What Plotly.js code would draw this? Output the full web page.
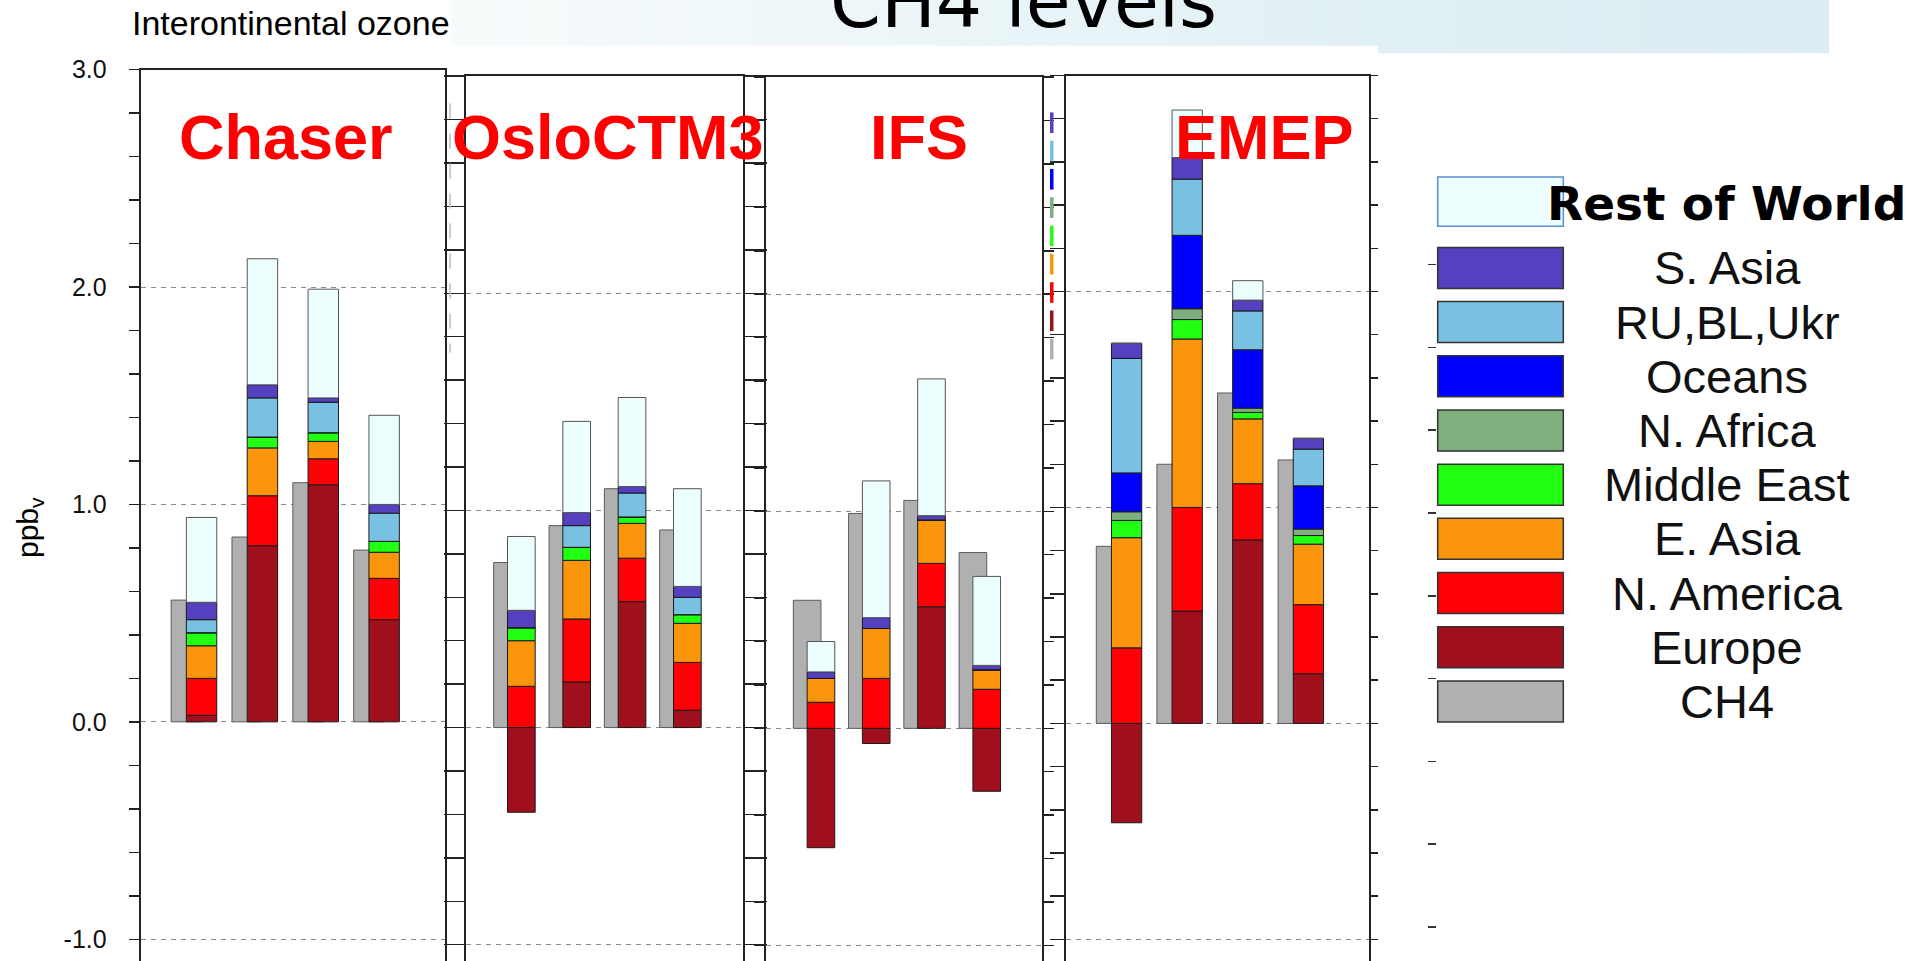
<!DOCTYPE html>
<html>
<head>
<meta charset="utf-8">
<script src="https://cdn.plot.ly/plotly-3.0.1.min.js"></script>
<style>html,body{margin:0;padding:0;background:#fff;}#chart{width:1915px;height:961px;}</style>
</head>
<body>
<div id="chart"></div>
<script>
// ---------------- DATA ----------------
const models = ['Chaser', 'OsloCTM3', 'IFS', 'EMEP'];
const receptors = ['1', '2', '3', '4'];
const tickVals = [-1, 0, 1, 2, 3];
const tickText = ['-1.0', '0.0', '1.0', '2.0', '3.0'];

// one inner array per model (Chaser, OsloCTM3, IFS, EMEP), 4 receptor groups each
const ch4        = [[0.56, 0.85, 1.10, 0.79], [0.76, 0.93, 1.10, 0.91], [0.59, 0.99, 1.05, 0.81], [0.82, 1.20, 1.53, 1.22]];
const europe     = [[0.03, 0.81, 1.09, 0.47], [-0.39, 0.21, 0.58, 0.08], [-0.55, -0.07, 0.56, -0.29], [-0.46, 0.52, 0.85, 0.23]];
const namerica   = [[0.17, 0.23, 0.12, 0.19], [0.19, 0.29, 0.20, 0.22], [0.12, 0.23, 0.20, 0.18], [0.35, 0.48, 0.26, 0.32]];
const easia      = [[0.15, 0.22, 0.08, 0.12], [0.21, 0.27, 0.16, 0.18], [0.11, 0.23, 0.20, 0.09], [0.51, 0.78, 0.30, 0.28]];
const mideast    = [[0.06, 0.05, 0.04, 0.05], [0.06, 0.06, 0.03, 0.04], [0, 0, 0, 0], [0.08, 0.09, 0.03, 0.04]];
const nafrica    = [[0, 0, 0, 0], [0, 0, 0, 0], [0, 0, 0, 0], [0.04, 0.05, 0.02, 0.03]];
const oceans     = [[0, 0, 0, 0], [0, 0, 0, 0], [0, 0, 0, 0], [0.18, 0.34, 0.27, 0.20]];
const rublukr    = [[0.06, 0.18, 0.14, 0.13], [0, 0.10, 0.11, 0.08], [0, 0, 0, 0], [0.53, 0.26, 0.18, 0.17]];
const sasia      = [[0.08, 0.06, 0.02, 0.04], [0.08, 0.06, 0.03, 0.05], [0.03, 0.05, 0.02, 0.02], [0.07, 0.10, 0.05, 0.05]];
const restOfWorld= [[0.39, 0.58, 0.50, 0.41], [0.34, 0.42, 0.41, 0.45], [0.14, 0.63, 0.63, 0.41], [0, 0.22, 0.09, 0]];

const regionNames  = ['Europe', 'N. America', 'E. Asia', 'Middle East', 'N. Africa', 'Oceans', 'RU,BL,Ukr', 'S. Asia', 'Rest of World'];
const regionValues = [europe, namerica, easia, mideast, nafrica, oceans, rublukr, sasia, restOfWorld];
const regionColors = ['#a0101c', '#fe0006', '#fb950b', '#22ff12', '#7fae7f', '#0000fe', '#78c1e3', '#5540c0', '#ecfefe'];
const ch4Color = '#b0b0b0';
const legendOrder = ['S. Asia', 'RU,BL,Ukr', 'Oceans', 'N. Africa', 'Middle East', 'E. Asia', 'N. America', 'Europe', 'CH4'];

// ---------------- LAYOUT HELPERS ----------------
const W = 1915, H = 961;
const px = v => v / W;
const py = v => 1 - v / H;
const colorOf = name => name === 'CH4' ? ch4Color : regionColors[regionNames.indexOf(name)];

const panels = [
  {x0: 140.7, x1: 445.0, top: 69.6, bottom: -1.10,  tl: [10, 0],  titleX: 285.5},
  {x0: 466.0, x1: 742.7, top: 76.1, bottom: -1.075, tl: [20, 22], titleX: 608},
  {x0: 765.7, x1: 1042.0, top: 77.2, bottom: -1.072, tl: [10, 10], titleX: 918.8},
  {x0: 1066.0, x1: 1369.0, top: 75.5, bottom: -1.10, tl: [14, 7], titleX: 1264.5}
];
const frameColor = '#222';
const sans = 'Liberation Sans, Arial, Helvetica, sans-serif';

const traces = [];
const layout = {
  width: W, height: H,
  margin: {l: 0, r: 0, t: 0, b: 0},
  paper_bgcolor: '#ffffff', plot_bgcolor: 'rgba(0,0,0,0)',
  barmode: 'relative', bargap: 0,
  showlegend: false, hovermode: false,
  shapes: [], annotations: []
};

panels.forEach((p, i) => {
  const xName = i === 0 ? 'x' : 'x' + (i + 1);
  const yBase = i === 0 ? 'y' : 'y' + (2 * i + 1);
  const yOver = 'y' + (2 * i + 2);
  const xKey = i === 0 ? 'xaxis' : 'xaxis' + (i + 1);
  const yBaseKey = i === 0 ? 'yaxis' : 'yaxis' + (2 * i + 1);
  const yOverKey = 'yaxis' + (2 * i + 2);

  traces.push({
    type: 'bar', x: receptors, y: ch4[i], xaxis: xName, yaxis: yBase,
    width: 0.5, offset: -0.5, name: 'CH4',
    marker: {color: ch4Color, line: {color: '#5c5c5c', width: 1}}
  });
  regionNames.forEach((r, k) => {
    traces.push({
      type: 'bar', x: receptors, y: regionValues[k][i], xaxis: xName, yaxis: yOver,
      width: 0.5, name: r,
      marker: {color: regionColors[k], line: {color: k === 8 ? '#555' : '#1a1a1a', width: 1}}
    });
  });

  layout[xKey] = {
    domain: [px(p.x0), px(p.x1)], type: 'category', range: [-1, 4], anchor: yBase, side: 'top',
    showline: true, linecolor: frameColor, linewidth: 2, ticks: '', showticklabels: false,
    showgrid: false, zeroline: false, fixedrange: true
  };
  layout[yBaseKey] = {
    domain: [0, py(p.top)], range: [p.bottom, 3], anchor: xName, side: 'left',
    showline: true, linecolor: frameColor, linewidth: 2,
    ticks: 'outside', ticklen: p.tl[0], tickwidth: 1.5, tickcolor: frameColor,
    tickmode: 'array', tickvals: tickVals, ticktext: tickText,
    showticklabels: i === 0, ticklabelstandoff: 17,
    tickfont: {family: sans, size: 25, color: '#111'},
    showgrid: true, gridcolor: '#8a8a8a', griddash: '5px,5px', gridwidth: 1,
    zeroline: false, fixedrange: true,
    minor: {dtick: 0.2, tick0: 0, ticks: 'outside', ticklen: p.tl[0], tickwidth: 1.5, tickcolor: frameColor, showgrid: false}
  };
  layout[yOverKey] = {
    overlaying: yBase, anchor: xName, side: 'right', range: [p.bottom, 3],
    showline: true, linecolor: frameColor, linewidth: 2,
    ticks: p.tl[1] > 0 ? 'outside' : '', ticklen: p.tl[1], tickwidth: 1.5, tickcolor: frameColor,
    tickmode: 'array', tickvals: tickVals, showticklabels: false,
    showgrid: false, zeroline: false, fixedrange: true,
    minor: p.tl[1] > 0 ? {dtick: 0.2, tick0: 0, ticks: 'outside', ticklen: p.tl[1], tickwidth: 1.5, tickcolor: frameColor, showgrid: false} : {ticks: ''}
  };

  layout.annotations.push({
    text: '<b>' + models[i] + '</b>', xref: 'paper', yref: 'paper',
    x: px(p.titleX), y: py(137), xanchor: 'center', yanchor: 'middle', showarrow: false,
    font: {family: sans, size: 63, color: '#ff0000'}
  });
});

// stray tick column left of the legend
traces.push({type: 'scatter', x: [0], y: [0], xaxis: 'x5', yaxis: 'y9', mode: 'markers', marker: {opacity: 0}, hoverinfo: 'skip'});
layout.xaxis5 = {domain: [px(1437), px(1440)], anchor: 'y9', visible: false, fixedrange: true};
layout.yaxis9 = {
  domain: [py(927), py(264.5)], range: [0, 8], anchor: 'x5', side: 'left',
  showline: false, ticks: 'outside', ticklen: 8, tickwidth: 1.5, tickcolor: '#333',
  dtick: 1, tick0: 0, showticklabels: false, showgrid: false, zeroline: false, fixedrange: true
};

// header band (gradient approximated by strips)
function lerp(a, b, t) { return Math.round(a + (b - a) * t); }
function band(x0, x1, y1, c0, c1, n) {
  for (let s = 0; s < n; s++) {
    const t = s / (n - 1);
    const c = 'rgb(' + lerp(c0[0], c1[0], t) + ',' + lerp(c0[1], c1[1], t) + ',' + lerp(c0[2], c1[2], t) + ')';
    const a = x0 + (x1 - x0) * s / n, b = x0 + (x1 - x0) * (s + 1) / n + 1;
    layout.shapes.push({type: 'rect', xref: 'paper', yref: 'paper', x0: px(a), x1: px(Math.min(b, x1)), y0: py(y1), y1: 1,
      fillcolor: c, line: {width: 0}, layer: 'below'});
  }
}
band(451.3, 1378, 45.7, [247, 251, 252], [225, 240, 245], 40);
band(1378, 1829, 53.3, [225, 240, 245], [219, 236, 242], 12);

// dashed grey vertical artefact
layout.shapes.push({type: 'line', xref: 'paper', yref: 'paper', x0: px(450), x1: px(450), y0: py(103.6), y1: py(352.4),
  line: {color: '#bbbbbb', width: 1.5, dash: 'longdash'}});

// mini legend fragments between panels 3 and 4
legendOrder.forEach((name, i) => {
  const top = 112.4 + i * 28.3;
  layout.shapes.push({type: 'rect', xref: 'paper', yref: 'paper', x0: px(1050), x1: px(1053.5), y0: py(top + 20.6), y1: py(top),
    fillcolor: colorOf(name), line: {width: 0}});
});

// right legend
layout.shapes.push({type: 'rect', xref: 'paper', yref: 'paper', x0: px(1437.7), x1: px(1563.3), y0: py(226.2), y1: py(177.1),
  fillcolor: regionColors[8], line: {color: '#5b8dd0', width: 1.5}});
layout.annotations.push({text: '<b>Rest of World</b>', xref: 'paper', yref: 'paper', x: px(1726.2), y: py(203),
  xanchor: 'center', yanchor: 'middle', showarrow: false, font: {family: 'DejaVu Sans', size: 47, color: '#000'}});
legendOrder.forEach((name, i) => {
  const top = 247.4 + i * 54.19;
  layout.shapes.push({type: 'rect', xref: 'paper', yref: 'paper', x0: px(1437.7), x1: px(1563.3), y0: py(top + 41), y1: py(top),
    fillcolor: colorOf(name), line: {color: '#333', width: 1.5}});
  layout.annotations.push({text: name, xref: 'paper', yref: 'paper', x: px(1727), y: py(top + 20.5),
    xanchor: 'center', yanchor: 'middle', showarrow: false, font: {family: sans, size: 47, color: '#111'}});
});

// texts
layout.annotations.push({text: 'Interontinental ozone', xref: 'paper', yref: 'paper', x: px(130), y: py(23),
  xanchor: 'left', yanchor: 'middle', showarrow: false, font: {family: sans, size: 34, color: '#000'}});
layout.annotations.push({text: 'CH4 levels', xref: 'paper', yref: 'paper', x: px(828), y: py(1),
  xanchor: 'left', yanchor: 'middle', showarrow: false, font: {family: 'DejaVu Sans', size: 73, color: '#000'}});
layout.annotations.push({text: 'ppb<sub>v</sub>', xref: 'paper', yref: 'paper', x: px(29), y: py(528),
  xanchor: 'center', yanchor: 'middle', textangle: -90, showarrow: false, font: {family: sans, size: 30, color: '#000'}});

Plotly.newPlot('chart', traces, layout, {displayModeBar: false, staticPlot: true});
</script>
</body>
</html>
